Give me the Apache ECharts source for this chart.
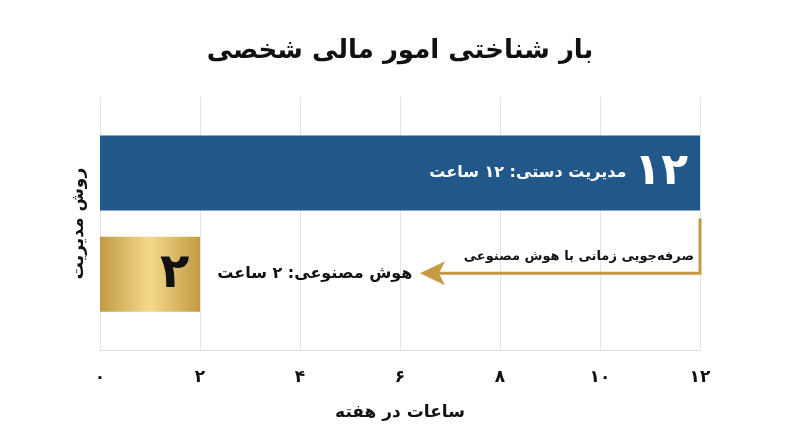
<!DOCTYPE html>
<html lang="fa">
<head>
  <meta charset="UTF-8">
  <title>بار شناختی امور مالی شخصی</title>
  <style>
    html, body { margin: 0; padding: 0; background: #fff; }
    #main { width: 800px; height: 447px; }
  </style>
</head>
<body>
  <div id="main"></div>
  <script src="https://cdn.jsdelivr.net/npm/echarts@6/dist/echarts.min.js"></script>
  <script>
    // داده‌ها
    const categories = ['روش مدیریت']
    const manualHours = [12]
    const aiHours = [2]
    const xTickLabels = ['۰', '۲', '۴', '۶', '۸', '۱۰', '۱۲']
    const manualLabel = 'مدیریت دستی: ۱۲ ساعت'
    const aiLabel = 'هوش مصنوعی: ۲ ساعت'
    const savingNote = 'صرفه‌جویی زمانی با هوش مصنوعی'
    const arrowTipValue = 6.4

    const FONT = 'DejaVu Sans'
    const BAR_W = 75

    const myChart = echarts.init(document.getElementById('main'))

    const gold = new echarts.graphic.LinearGradient(0, 0, 1, 0, [
      { offset: 0, color: '#c29a42' },
      { offset: 0.5, color: '#f3da8c' },
      { offset: 1, color: '#c29a42' }
    ])

    const option = {
      animation: false,
      textStyle: { fontFamily: FONT },
      title: {
        text: 'بار شناختی امور مالی شخصی',
        left: 'center',
        top: 33,
        textStyle: { fontFamily: FONT, fontSize: 26, fontWeight: 'bold', color: '#111' }
      },
      grid: { left: 100, right: 100, top: 97, bottom: 97 },
      xAxis: {
        type: 'value',
        min: 0,
        max: 12,
        interval: 2,
        name: 'ساعات در هفته',
        nameLocation: 'middle',
        nameGap: 54,
        nameTextStyle: { fontFamily: FONT, fontSize: 17, fontWeight: 'bold', color: '#111' },
        axisLine: { show: true, lineStyle: { color: '#dddddd' } },
        axisTick: { show: false },
        axisLabel: {
          margin: 19,
          fontSize: 17,
          fontWeight: 'bold',
          color: '#111',
          formatter: v => xTickLabels[v / 2]
        },
        splitLine: { show: true, lineStyle: { color: '#e4e4e4' } }
      },
      yAxis: {
        type: 'category',
        data: categories,
        name: categories[0],
        nameLocation: 'middle',
        nameRotate: 90,
        nameGap: 13,
        nameTextStyle: { fontFamily: FONT, fontSize: 17, fontWeight: 'bold', color: '#111' },
        axisLine: { show: false },
        axisTick: { show: false },
        axisLabel: { show: false }
      },
      series: [
        {
          name: 'مدیریت دستی',
          type: 'bar',
          data: manualHours,
          barWidth: BAR_W,
          barGap: '35%',
          itemStyle: { color: '#22578a' },
          label: {
            show: true,
            position: 'insideRight',
            distance: 12,
            formatter: '{t|' + manualLabel + '}{b|' + xTickLabels[6] + '}',
            rich: {
              t: { fontFamily: FONT, fontSize: 16, fontWeight: 'bold', color: '#fff' },
              b: { fontFamily: FONT, fontSize: 44, fontWeight: 'bold', color: '#fff', padding: [0, 0, 0, 8] }
            }
          }
        },
        {
          name: 'هوش مصنوعی',
          type: 'bar',
          data: aiHours,
          barWidth: BAR_W,
          itemStyle: { color: gold },
          label: {
            show: true,
            position: [60, '50%'],
            align: 'left',
            verticalAlign: 'middle',
            formatter: '{b|' + xTickLabels[1] + '}{t|' + aiLabel + '}',
            rich: {
              b: { fontFamily: FONT, fontSize: 48, fontWeight: 'bold', color: '#111' },
              t: { fontFamily: FONT, fontSize: 16, fontWeight: 'bold', color: '#111', padding: [0, 0, 0, 28] }
            }
          }
        }
      ]
    }

    myChart.setOption(option)

    // فلش صرفه‌جویی زمانی
    function drawArrow() {
      const xEnd = myChart.convertToPixel({ xAxisIndex: 0 }, manualHours[0])
      const xTip = myChart.convertToPixel({ xAxisIndex: 0 }, arrowTipValue)
      const yMid = myChart.convertToPixel({ yAxisIndex: 0 }, categories[0])
      const step = (BAR_W * 1.35) / 2
      const yTop = yMid - step + BAR_W / 2 + 8
      const yLine = yMid + step - 1
      const goldLine = '#c49a45'
      myChart.setOption({
        graphic: [
          {
            type: 'polyline',
            shape: { points: [[xEnd, yTop], [xEnd, yLine], [xTip + 18, yLine]] },
            style: { stroke: goldLine, lineWidth: 3, fill: null }
          },
          {
            type: 'polygon',
            shape: { points: [[xTip, yLine], [xTip + 25, yLine - 12], [xTip + 19, yLine], [xTip + 25, yLine + 12]] },
            style: { fill: goldLine }
          },
          {
            type: 'text',
            x: xEnd - 6,
            y: yLine - 17,
            style: {
              text: savingNote,
              align: 'right',
              verticalAlign: 'middle',
              fontFamily: FONT,
              fontSize: 13,
              fontWeight: 'bold',
              fill: '#111'
            }
          }
        ]
      })
    }
    drawArrow()
  </script>
</body>
</html>
